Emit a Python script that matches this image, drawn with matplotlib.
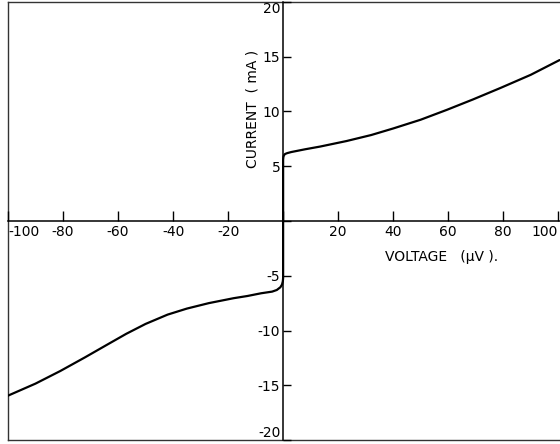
import matplotlib
matplotlib.use('Agg')
import matplotlib.pyplot as plt

plt.rcParams['font.family'] = 'DejaVu Sans'
plt.rcParams['axes.unicode_minus'] = False

# forward branch (positive voltage)
v_pos = [0, 0, 0.1, 0.3, 0.7, 1.5, 3, 8, 13.5, 23, 32, 40, 50, 59.5, 69, 79, 90, 100.5]
i_pos = [0, 5.6, 5.85, 6.0, 6.12, 6.2, 6.3, 6.55, 6.8, 7.3, 7.85, 8.45, 9.25, 10.15, 11.1, 12.15, 13.35, 14.7]

# reverse branch (negative voltage)
v_neg = [0, 0, -0.1, -0.4, -1, -2.3, -4, -8, -13, -18, -27, -35, -42, -50, -57, -64, -72, -81, -90, -100]
i_neg = [0, -5.2, -5.5, -5.8, -6.05, -6.3, -6.45, -6.6, -6.85, -7.05, -7.5, -8.0, -8.55, -9.4, -10.3, -11.3, -12.45, -13.7, -14.85, -15.95]

x_ticks = [-100, -80, -60, -40, -20, 0, 20, 40, 60, 80, 100]
x_labels = ['-100', '-80', '-60', '-40', '-20', '', '20', '40', '60', '80', '100']
y_ticks = [-20, -15, -10, -5, 0, 5, 10, 15, 20]
y_labels = ['-20', '-15', '-10', '-5', '', '5', '10', '15', '20']

fig = plt.figure(figsize=(5.6, 4.44), dpi=100)
pos = [8 / 560, 4 / 444, 553 / 560, 438 / 444]

# outer frame
frame = fig.add_axes(pos)
frame.set_xticks([])
frame.set_yticks([])
frame.spines['right'].set_visible(False)
for s in ['left', 'top', 'bottom']:
    frame.spines[s].set_linewidth(1.0)
    frame.spines[s].set_color('#333333')

ax = fig.add_axes(pos)
ax.patch.set_alpha(0)
ax.set_xlim(-100, 101)
ax.set_ylim(-20, 20)
ax.spines['left'].set_position(('data', 0))
ax.spines['bottom'].set_position(('data', 0))
ax.spines['top'].set_visible(False)
ax.spines['right'].set_visible(False)
ax.spines['left'].set_linewidth(1.1)
ax.spines['bottom'].set_linewidth(1.1)

ax.plot(v_pos, i_pos, color='black', lw=1.6, solid_capstyle='round', solid_joinstyle='round')
ax.plot(v_neg, i_neg, color='black', lw=1.6, solid_capstyle='round', solid_joinstyle='round')

ax.set_xticks(x_ticks)
ax.set_xticklabels(x_labels)
ax.set_yticks(y_ticks)
ax.set_yticklabels(y_labels)
ax.tick_params(axis='x', direction='in', length=7, width=1, labelsize=10, pad=3)
ax.tick_params(axis='y', direction='in', length=6, width=1, labelsize=10, pad=2)

xl = ax.get_xticklabels()
xl[0].set_horizontalalignment('left')
xl[-1].set_horizontalalignment('right')
yl = ax.get_yticklabels()
yl[0].set_verticalalignment('bottom')
yl[-1].set_verticalalignment('top')

ax.text(-11.2, 10.2, 'CURRENT  ( mA )', rotation=90, ha='center', va='center', fontsize=10)
ax.text(57.5, -3.3, 'VOLTAGE   (μV ).', ha='center', va='center', fontsize=10)

fig.savefig('out.png', dpi=100)
